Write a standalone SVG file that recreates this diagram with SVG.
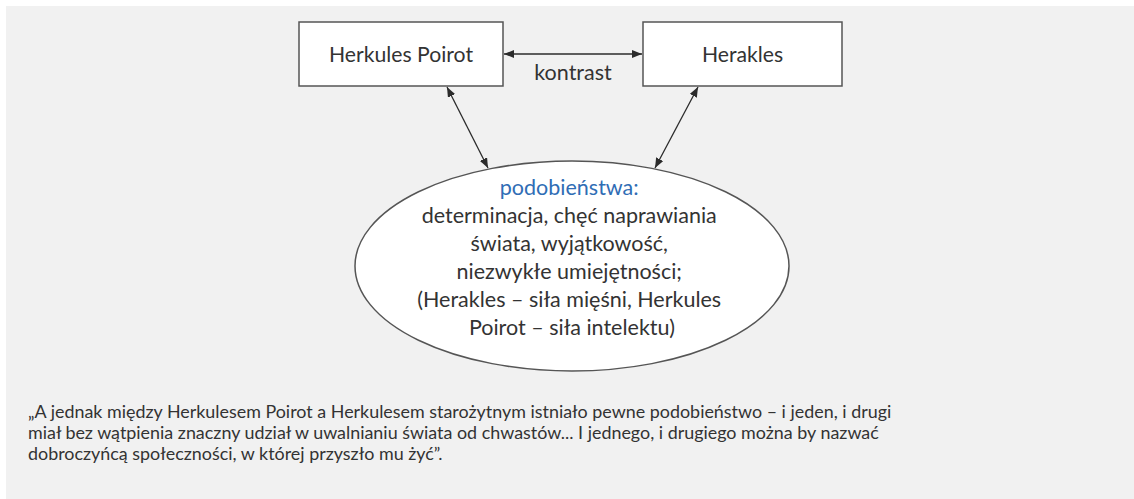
<svg xmlns="http://www.w3.org/2000/svg" width="1134" height="499" viewBox="0 0 1134 499">
<defs>
<marker id="ah" viewBox="0 0 10 8" refX="10" refY="4" markerWidth="10" markerHeight="8" markerUnits="userSpaceOnUse" orient="auto-start-reverse">
<path d="M0,0 L10,4 L0,8 z" fill="#2b2b2b"/>
</marker>
</defs>
<style>
.t{font-family:Lato,"Open Sans","Liberation Sans",sans-serif;fill:#333;}
.box{fill:#fff;stroke:#555;stroke-width:1.5;}
.c{stroke:#2b2b2b;stroke-width:1.3;fill:none;marker-start:url(#ah);marker-end:url(#ah);}
</style>
<rect x="6" y="6" width="1128" height="493" fill="#f1f1f1"/>
<g id="node-poirot">
<rect class="box" x="299" y="22" width="204" height="64"/>
<text class="t" x="401" y="62" font-size="21.2" text-anchor="middle">Herkules Poirot</text>
</g>
<g id="node-herakles">
<rect class="box" x="643" y="22" width="199" height="64"/>
<text class="t" x="742.5" y="62" font-size="21.2" text-anchor="middle">Herakles</text>
</g>
<g id="node-podobienstwa">
<ellipse cx="572" cy="266" rx="217" ry="105" fill="#fff" stroke="#555" stroke-width="1.5"/>
<text class="t" x="572" font-size="21.5" text-anchor="middle">
<tspan x="572" y="195" style="fill:#2f6db5">podobieństwa:</tspan>
<tspan x="572" y="223">determinacja, chęć naprawiania</tspan>
<tspan x="572" y="251">świata, wyjątkowość,</tspan>
<tspan x="572" y="279">niezwykłe umiejętności;</tspan>
<tspan x="572" y="307">(Herakles – siła mięśni, Herkules</tspan>
<tspan x="572" y="335">Poirot – siła intelektu)</tspan>
</text>
</g>
<g id="connectors">
<line class="c" x1="504" y1="54" x2="642" y2="54"/>
<line class="c" x1="447" y1="87" x2="488" y2="168"/>
<line class="c" x1="698" y1="87" x2="655" y2="168"/>
</g>
<text class="t" x="573" y="80" font-size="21.5" text-anchor="middle">kontrast</text>
<g id="quote">
<text class="t" font-size="17.9">
<tspan x="28" y="418">„A jednak między Herkulesem Poirot a Herkulesem starożytnym istniało pewne podobieństwo – i jeden, i drugi</tspan>
<tspan x="28" y="439">miał bez wątpienia znaczny udział w uwalnianiu świata od chwastów... I jednego, i drugiego można by nazwać</tspan>
<tspan x="28" y="460">dobroczyńcą społeczności, w której przyszło mu żyć”.</tspan>
</text>
</g>
</svg>
